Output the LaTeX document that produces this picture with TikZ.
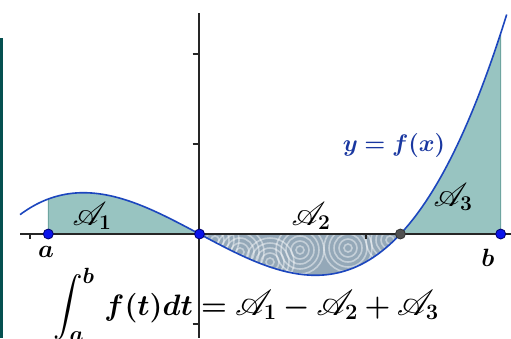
\RequirePackage{fix-cm}
\documentclass[tikz,border=0pt]{standalone}
\usepackage{amsmath,amssymb,bm}
\DeclareFontFamily{U}{rsfs}{\skewchar\font127 }
\DeclareFontShape{U}{rsfs}{m}{n}{<-> s*[1.22] rsfs10}{}
\usepackage{mathrsfs}
\DeclareMathSizes{27}{27}{21}{16}
\DeclareMathSizes{29.5}{29.5}{22}{17}
\definecolor{tealfill}{RGB}{152,196,193}
\definecolor{tealedge}{RGB}{110,165,160}
\definecolor{curveblue}{RGB}{28,70,190}
\definecolor{labelblue}{RGB}{25,55,160}
\definecolor{ptblue}{RGB}{10,20,235}
\definecolor{ptedge}{RGB}{0,0,110}
\definecolor{ptgray}{RGB}{80,80,80}
\definecolor{leftbar}{RGB}{5,80,80}
\definecolor{texbase}{RGB}{148,168,184}
\newcommand\scrA[1]{\mathscr{A}_{\mathbf{#1}}}
\tikzset{
  axisline/.style={line width=1.8pt, draw=black!85},
  tickmark/.style={line width=1.4pt, draw=black!85},
  curveline/.style={line width=1.6pt, draw=curveblue},
  areafill/.style={fill=tealfill},
  vedge/.style={line width=1pt, draw=tealedge},
  bluedot/.style={circle, inner sep=0pt, minimum size=10pt, line width=0.8pt, draw=ptedge, fill=ptblue},
  graydot/.style={circle, inner sep=0pt, minimum size=10pt, line width=0.8pt, draw=black!80, fill=ptgray},
  swirl/.style={draw=white, opacity=0.45, line width=1.6pt},
  lbltext/.style={inner sep=0pt, font=\fontsize{25}{30}\selectfont},
  arealbl/.style={inner sep=0pt, font=\fontsize{27}{32}\selectfont}
}
\begin{document}
\begin{tikzpicture}[x=1pt,y=-1pt,declare function={f(\u)=0.697*\u*(\u*\u-1.43);}]
\useasboundingbox (0,0) rectangle (511,338);
\fill[white] (0,0) rectangle (511,338);
\fill[leftbar] (0,38) rectangle (3,338);

% areas
\fill[areafill] (48.3,234) -- plot[domain=-0.900:0,samples=40] ({199.5+168*\x},{234-90*f(\x)}) -- cycle;
\fill[areafill] (400.4,234) -- plot[domain=1.196:1.793,samples=40] ({199.5+168*\x},{234-90*f(\x)}) -- (500.7,234) -- cycle;
\begin{scope}
  \clip (199.5,234) -- plot[domain=0:1.196,samples=50] ({199.5+168*\x},{234-90*f(\x)}) -- cycle;
  \fill[texbase] (199,230) rectangle (402,280);
  \foreach \cx/\cy in {240/252, 300/250, 348/248, 390/240, 270/262, 215/240} {
    \foreach \r in {4,9,14,19,24} {
      \draw[swirl] (\cx,\cy) circle (\r);
    }
  }
\end{scope}
\draw[vedge] (48.3,234) -- ({199.5+168*(-0.900)},{234-90*f(-0.900)});
\draw[vedge] (500.7,234) -- ({199.5+168*1.793},{234-90*f(1.793)});

% axes
\draw[axisline] (20,234) -- (511,234);
\draw[axisline] (199,13) -- (199,338);
\foreach \yy in {54,144,324} \draw[tickmark] (192.5,\yy) -- (199,\yy);
\foreach \xx in {30,366} \draw[tickmark] (\xx,234) -- (\xx,239);

% curve
\draw[curveline] plot[domain=-1.068:1.83,samples=150] ({199.5+168*\x},{234-90*f(\x)});

% points
\node[bluedot] (pa) at (48.3,234) {};
\node[bluedot] (po) at (199.5,234) {};
\node[graydot] (pc) at (400.4,234) {};
\node[bluedot] (pb) at (500.7,234) {};

% labels
\node[lbltext] (la) at (46,252) {$\bm{a}$};
\node[lbltext] (lb) at (488,258) {$\bm{b}$};
\node[arealbl] (A1) at (92,216) {$\scrA{1}$};
\node[arealbl] (A2) at (311,216) {$\scrA{2}$};
\node[arealbl] (A3) at (453,197) {$\scrA{3}$};
\node[inner sep=0pt, font=\fontsize{24}{28}\selectfont, text=labelblue] (yf) at (394,145) {$\bm{y}\mathrel{\bm{=}}\bm{f(x)}$};
\node[inner sep=0pt, anchor=base west, font=\fontsize{29.5}{34}\selectfont] (formula) at (53,315)
  {$\displaystyle\int_{\bm a}^{\bm b}\, \bm{f(t)dt} \mathrel{\bm{=}} \scrA{1} \mathbin{\bm{-}} \scrA{2} \mathbin{\bm{+}} \scrA{3}$};
\end{tikzpicture}
\end{document}
